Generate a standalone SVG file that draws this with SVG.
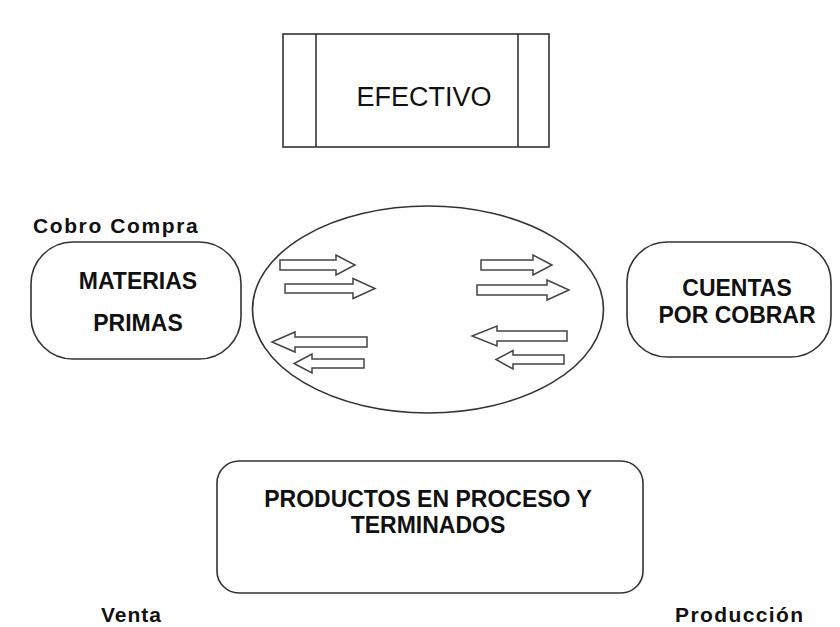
<svg xmlns="http://www.w3.org/2000/svg" width="840" height="627" viewBox="0 0 840 627">
<style>
.shape{fill:#fff;stroke:#333;stroke-width:1.6}
.arrow{fill:#fff;stroke:#444;stroke-width:1.5;stroke-linejoin:miter}
.t{font-family:"Liberation Sans",Arial,sans-serif;fill:#111}
.b{font-weight:bold;font-size:23px;text-anchor:middle}
.lbl{font-weight:bold;font-size:21px}
</style>
<rect width="840" height="627" fill="#fff"/>
<g id="efectivo">
<rect class="shape" x="283" y="34" width="266" height="113"/>
<line class="shape" x1="316" y1="34" x2="316" y2="147"/>
<line class="shape" x1="518" y1="34" x2="518" y2="147"/>
<text class="t" x="424" y="106" font-size="27" text-anchor="middle">EFECTIVO</text>
</g>
<g id="materias-primas">
<rect class="shape" x="31" y="242" width="210" height="117" rx="42" ry="42"/>
<text class="t b" x="138" y="289">MATERIAS</text>
<text class="t b" x="138" y="331">PRIMAS</text>
</g>
<g id="ciclo">
<ellipse class="shape" cx="428" cy="309.5" rx="175.5" ry="103.5"/>
</g>
<g id="cuentas-por-cobrar">
<rect class="shape" x="627" y="242" width="204" height="115" rx="40" ry="40"/>
<text class="t b" x="737" y="296">CUENTAS</text>
<text class="t b" x="737" y="323">POR COBRAR</text>
</g>
<g id="productos">
<rect class="shape" x="217" y="461" width="426" height="132" rx="22" ry="22"/>
<text class="t b" x="428" y="507">PRODUCTOS EN PROCESO Y</text>
<text class="t b" x="428" y="533">TERMINADOS</text>
</g>
<g id="connectors">
<polygon class="arrow" points="280,260 336,260 336,255 355,265 336,275 336,270 280,270"/>
<polygon class="arrow" points="285,284 353,284 353,278.5 375,288.5 353,298.5 353,293 285,293"/>
<polygon class="arrow" points="367,337 295,337 295,332 272,342 295,352 295,347 367,347"/>
<polygon class="arrow" points="364,359 312,359 312,354 294,363.5 312,373 312,368 364,368"/>
<polygon class="arrow" points="481,260 533,260 533,255 552,265 533,275 533,270 481,270"/>
<polygon class="arrow" points="477,285 547,285 547,280 569,290 547,300 547,295 477,295"/>
<polygon class="arrow" points="567,331 497,331 497,326 472,336 497,346 497,341 567,341"/>
<polygon class="arrow" points="564,355 513,355 513,350.5 496,359.5 513,369 513,364 564,364"/>
</g>
<g id="labels">
<text class="t lbl" x="33" y="233" letter-spacing="1.6">Cobro Compra</text>
<text class="t lbl" x="101" y="622" letter-spacing="1">Venta</text>
<text class="t lbl" x="675" y="622" letter-spacing="1.4">Producción</text>
</g>
</svg>
